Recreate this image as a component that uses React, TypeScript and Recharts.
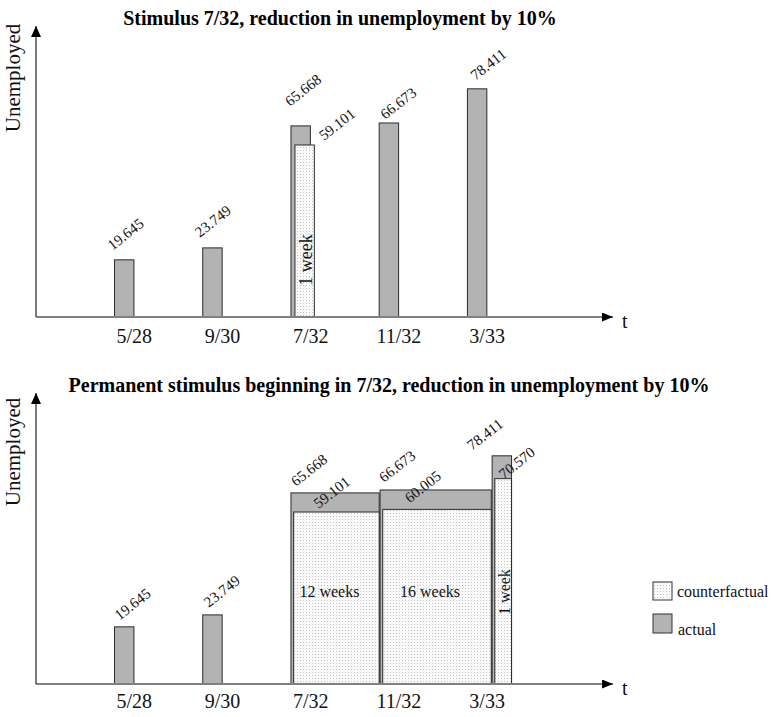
import React from 'react';
import { ComposedChart, XAxis, YAxis, ReferenceArea } from 'recharts';

// categories on the time axis
const categories = ['5/28', '9/30', '7/32', '11/32', '3/33'];

// top panel: one-off stimulus
const actualTop = [19.645, 23.749, 65.668, 66.673, 78.411];
const counterfactualTop = [null, null, 59.101, null, null];
const notesTop = [null, null, '1 week', null, null];

// bottom panel: permanent stimulus
const actualBottom = [19.645, 23.749, 65.668, 66.673, 78.411];
const counterfactualBottom = [null, null, 59.101, 60.005, 70.57];
const notesBottom = [null, null, '12 weeks', '16 weeks', '1 week'];
// period each bottom bar covers, in category slots
const spanFromBottom = [-0.11, 0.89, 1.89, 2.9, 4.17];
const spanToBottom = [0.11, 1.11, 2.89, 4.16, 4.39];

const FONT = '"Liberation Serif", "Times New Roman", serif';
const GREY = '#b3b3b3';
const HALF = 0.11;
const CF_SHIFT_TOP = 0.045;
const CF_INSET_BOTTOM = 0.03;
const LABEL_ANGLE = -38;

// label nudges (px) relative to the bar's top-left corner
const nudgeTopActual = [[-2, -9], [-3, -10], [-1, -19], [6, -3], [8, -8]];
const nudgeTopCf = [null, null, [29, -4], null, null];
const nudgeBottomActual = [[5, -6], [6, -7], [5, -6], [4, -7], [-20, -5]];
const nudgeBottomCf = [null, null, [25, -3], [27, -6], [9, 1]];

type Block = {
  key: string;
  x1: number;
  x2: number;
  value: number;
  kind: 'actual' | 'cf';
  note: string | null;
  nudge: number[];
};

const rows = categories.map((c, i) => ({ idx: i, label: c }));

const topBlocks: Block[] = [];
categories.forEach((_, i) => {
  topBlocks.push({ key: 'a' + i, x1: i - HALF, x2: i + HALF, value: actualTop[i], kind: 'actual', note: null, nudge: nudgeTopActual[i] });
});
categories.forEach((_, i) => {
  const v = counterfactualTop[i];
  if (v == null) return;
  topBlocks.push({ key: 'c' + i, x1: i - HALF + CF_SHIFT_TOP, x2: i + HALF + CF_SHIFT_TOP, value: v, kind: 'cf', note: notesTop[i], nudge: nudgeTopCf[i] as number[] });
});

const bottomBlocks: Block[] = [];
categories.forEach((_, i) => {
  bottomBlocks.push({ key: 'a' + i, x1: spanFromBottom[i], x2: spanToBottom[i], value: actualBottom[i], kind: 'actual', note: null, nudge: nudgeBottomActual[i] });
});
categories.forEach((_, i) => {
  const v = counterfactualBottom[i];
  if (v == null) return;
  bottomBlocks.push({ key: 'c' + i, x1: spanFromBottom[i] + CF_INSET_BOTTOM, x2: spanToBottom[i], value: v, kind: 'cf', note: notesBottom[i], nudge: nudgeBottomCf[i] as number[] });
});

function BlockShape({ x, y, width, height, block, lift, noteSize }: any) {
  const base = y + height;
  const [dx, dy] = block.nudge;
  const ax = x + dx;
  const ay = y + dy;
  const cx = x + width / 2;
  const narrow = width < 30;
  return (
    <g>
      <rect
        x={x}
        y={y}
        width={width}
        height={height}
        fill={block.kind === 'actual' ? GREY : 'url(#dots)'}
        stroke="#2b2b2b"
        strokeWidth={1}
      />
      <text x={ax} y={ay} fontSize={15} fontFamily={FONT} fill="#111" transform={`rotate(${LABEL_ANGLE} ${ax} ${ay})`}>
        {block.value.toFixed(3)}
      </text>
      {block.note && narrow && (
        <text
          x={cx + 7}
          y={base - lift}
          textAnchor="middle"
          fontSize={noteSize}
          fontFamily={FONT}
          fill="#111"
          transform={`rotate(-90 ${cx + 7} ${base - lift})`}
        >
          {block.note}
        </text>
      )}
      {block.note && !narrow && (
        <text x={cx - 7} y={base - lift + 5} textAnchor="middle" fontSize={noteSize} fontFamily={FONT} fill="#111">
          {block.note}
        </text>
      )}
    </g>
  );
}

function Panel({ blocks, height, marginTop, axisHeight, tickDrop, nameLift, noteLift, noteSize }: any) {
  return (
    <ComposedChart width={771} height={height} data={rows} margin={{ top: marginTop, right: 158, bottom: 0, left: 35 }}>
      <XAxis
        type="number"
        dataKey="idx"
        domain={[-1, 5.54]}
        allowDataOverflow
        ticks={[0, 1, 2, 3, 4]}
        interval={0}
        tickLine={false}
        tickSize={0}
        tickMargin={0}
        height={axisHeight}
        axisLine={{ stroke: '#808080', strokeWidth: 2, markerEnd: 'url(#arrowX)' }}
        tick={(p: any) => (
          <text x={p.x + 10} y={p.y + tickDrop} textAnchor="middle" fontSize={20} fontFamily={FONT} fill="#111">
            {categories[p.payload.value]}
          </text>
        )}
        label={(p: any) => {
          const vb = p.viewBox;
          return (
            <text x={vb.x + vb.width + 9} y={vb.y + 11} fontSize={20} fontFamily={FONT} fill="#111">
              t
            </text>
          );
        }}
      />
      <YAxis
        type="number"
        domain={[0, 100]}
        allowDataOverflow
        width={1}
        tick={false}
        tickLine={false}
        axisLine={{ stroke: '#333', strokeWidth: 1.3, markerStart: 'url(#arrowY)' }}
        label={(p: any) => {
          const vb = p.viewBox;
          const lx = vb.x + vb.width - 16;
          const ly = vb.y + nameLift;
          return (
            <text x={lx} y={ly} textAnchor="middle" fontSize={21} fontFamily={FONT} fill="#111" transform={`rotate(-90 ${lx} ${ly})`}>
              Unemployed
            </text>
          );
        }}
      />
      {blocks.map((b: Block) => (
        <ReferenceArea
          key={b.key}
          x1={b.x1}
          x2={b.x2}
          y1={0}
          y2={b.value}
          ifOverflow="visible"
          shape={(p: any) => <BlockShape {...p} block={b} lift={noteLift} noteSize={noteSize} />}
        />
      ))}
    </ComposedChart>
  );
}

export default function App() {
  return (
    <div style={{ position: 'relative', width: 771, height: 717, fontFamily: FONT, background: '#fff' }}>
      <style>{'body{margin:0}'}</style>
      <div style={{ position: 'absolute', left: 0, top: 0 }}>
        <Panel blocks={topBlocks} height={360} marginTop={26} axisHeight={43} tickDrop={26} nameLift={52} noteLift={57} noteSize={18} />
      </div>
      <div style={{ position: 'absolute', left: 0, top: 360 }}>
        <Panel blocks={bottomBlocks} height={357} marginTop={33} axisHeight={33} tickDrop={24} nameLift={59} noteLift={92} noteSize={16} />
      </div>
      <svg width={771} height={717} style={{ position: 'absolute', left: 0, top: 0, pointerEvents: 'none' }}>
        <defs>
          <pattern id="dots" width="3" height="3" patternUnits="userSpaceOnUse">
            <rect width="3" height="3" fill="#fafafa" />
            <rect width="1" height="1" fill="#c4c4c4" />
          </pattern>
          <marker id="arrowX" markerWidth="11" markerHeight="9" refX="11" refY="4.5" orient="auto" markerUnits="userSpaceOnUse">
            <path d="M0,0 L11,4.5 L0,9 Z" fill="#000" />
          </marker>
          <marker id="arrowY" markerWidth="11" markerHeight="10" refX="11" refY="5" orient="auto-start-reverse" markerUnits="userSpaceOnUse">
            <path d="M0,0 L11,5 L0,10 Z" fill="#000" />
          </marker>
        </defs>
        <text x={340} y={25} textAnchor="middle" fontSize={20} fontWeight="bold" fontFamily={FONT} fill="#000">
          Stimulus 7/32, reduction in unemployment by 10%
        </text>
        <text x={389} y={392} textAnchor="middle" fontSize={20} fontWeight="bold" fontFamily={FONT} fill="#000">
          Permanent stimulus beginning in 7/32, reduction in unemployment by 10%
        </text>
        <rect x={653} y={582} width={19} height={18} fill="url(#dots)" stroke="#333" strokeWidth={1} />
        <text x={677} y={597} fontSize={16} fontFamily={FONT} fill="#111">counterfactual</text>
        <rect x={653} y={614} width={19} height={19} fill={GREY} stroke="#333" strokeWidth={1} />
        <text x={678} y={635} fontSize={16} fontFamily={FONT} fill="#111">actual</text>
      </svg>
    </div>
  );
}
